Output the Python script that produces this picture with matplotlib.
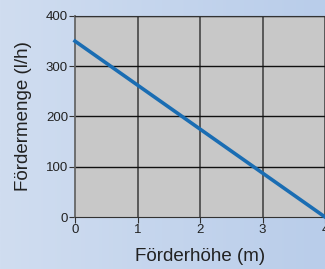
import numpy as np
import matplotlib
matplotlib.use("Agg")
import matplotlib.pyplot as plt

plt.rcParams['font.family'] = ['Liberation Sans', 'DejaVu Sans']

hoehe = [0, 4]
menge = [350, 0]
x_ticks = [0, 1, 2, 3, 4]
y_ticks = [0, 100, 200, 300, 400]

fig = plt.figure(figsize=(3.25, 2.69), dpi=100)

# Hintergrund mit leichtem Verlauf
bg = fig.add_axes([0, 0, 1, 1], zorder=-1)
grad = np.linspace(0, 1, 256).reshape(1, -1)
cmap = matplotlib.colors.LinearSegmentedColormap.from_list("bg", ["#d0ddf0", "#b9cdea"])
bg.imshow(grad, aspect='auto', cmap=cmap, extent=[0, 1, 0, 1])
bg.axis('off')

ax = fig.add_axes([75 / 325, 52 / 269, 250 / 325, 201 / 269])
ax.set_facecolor("#c8c8c8")
ax.set_xlim(0, 4)
ax.set_ylim(0, 400)
ax.set_xticks(x_ticks)
ax.set_yticks(y_ticks)

for x in x_ticks[1:]:
    ax.axvline(x, color="#505050", lw=1.3, zorder=1)
for y in y_ticks[1:]:
    ax.axhline(y, color="#111111", lw=1.0, zorder=1)

ax.plot(hoehe, menge, color="#1a6db3", lw=2.6, zorder=3, clip_on=False)

ax.spines['right'].set_visible(False)
ax.spines['top'].set_color("#333333")
ax.spines['left'].set_color("#666666")
ax.spines['left'].set_linewidth(1.3)
ax.spines['bottom'].set_color("#333333")

ax.tick_params(axis='both', labelsize=9.5, length=4, width=0.8, color="#333333",
               labelcolor="#222222", pad=1)
ax.set_xlabel("Förderhöhe (m)", fontsize=13.5, color="#222222", labelpad=9)
ax.set_ylabel("Fördermenge (l/h)", fontsize=13.5, color="#222222", labelpad=10)

plt.savefig("out.png", dpi=100)
